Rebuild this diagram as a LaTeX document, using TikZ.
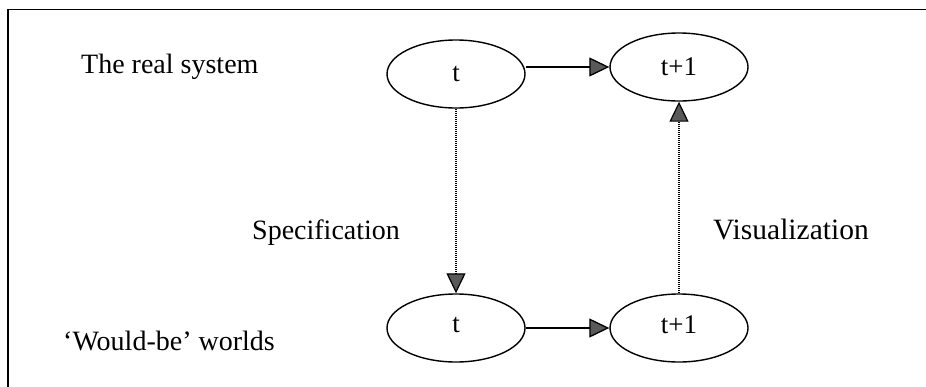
\documentclass[tikz,border=0pt]{standalone}
\usepackage{fontspec}
\setmainfont{Liberation Serif}
\usetikzlibrary{arrows.meta,shapes.geometric}
\begin{document}
\begin{tikzpicture}[x=1pt,y=-1pt,
  state/.style={draw, line width=1.4pt, ellipse, minimum width=138pt, minimum height=68pt, inner sep=0pt, font=\fontsize{27}{30}\selectfont},
  lbl/.style={font=\fontsize{28}{32}\selectfont, inner sep=0pt, anchor=base west},
  arr/.style={line width=1.3pt, -{Triangle[length=20pt,width=19pt,fill=black!65]}},
  dotline/.style={line width=1.2pt, dash pattern=on 1pt off 1pt}]
\useasboundingbox (0,0) rectangle (926,386);
\clip (0,0) rectangle (926,386);
\draw[line width=1.5pt] (8,9.5) rectangle (960,420);
\node[state] (tl) at (456,74) {\raisebox{-9pt}{t}};
\node[state] (tr) at (679,67) {\raisebox{-10pt}{t+1}};
\node[state] (bl) at (456,328) {\raisebox{7pt}{t}};
\node[state] (br) at (679,328) {\raisebox{7pt}{t+1}};
\node[lbl] (real) at (81,73) {The real system};
\node[lbl] (would) at (63,350) {‘Would-be’ worlds};
\node[lbl] (spec) at (252,239) {Specification};
\node[lbl] (vis) at (713,239) {\fontsize{29.5}{32}\selectfont Visualization};
\draw[arr] (tl.east |- tr.west) -- (tr.west);
\draw[arr] (bl.east) -- (br.west);
\draw[arr, dotline] (tl.south) -- (bl.north);
\draw[arr, dotline] (br.north) -- (tr.south);
\end{tikzpicture}
\end{document}
